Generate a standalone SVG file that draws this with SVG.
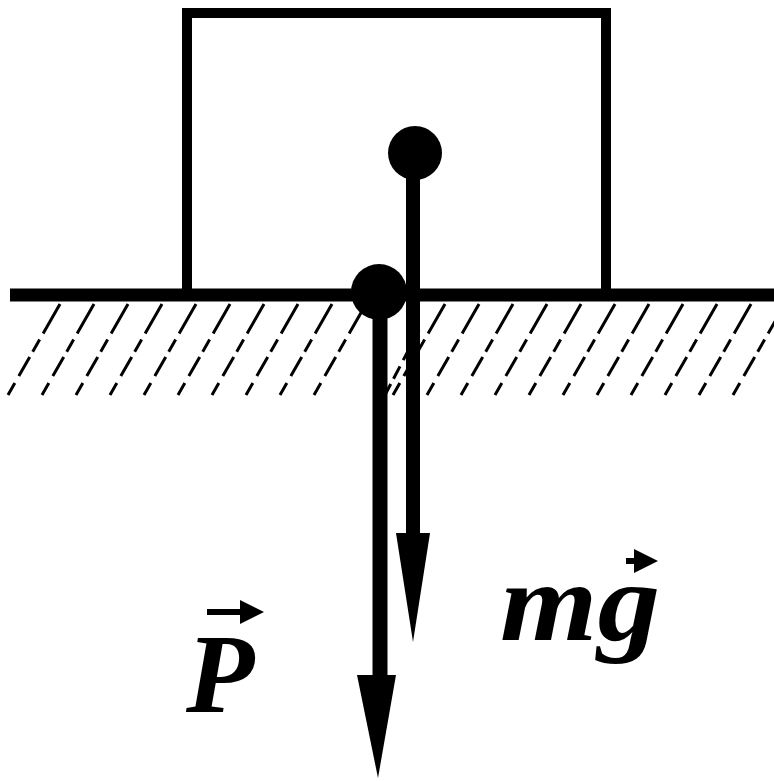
<svg xmlns="http://www.w3.org/2000/svg" width="774" height="781" viewBox="0 0 774 781">
<style>
.ink{stroke:#000;fill:none}
.hatch{stroke:#000;stroke-width:3;stroke-dasharray:34 7 14 6 22 8}
.lbl{font-family:"Liberation Serif","DejaVu Serif",serif;font-style:italic;font-weight:bold;fill:#000}
</style>
<defs>
<marker id="acc" markerWidth="4" markerHeight="4" refX="3" refY="2" orient="auto" markerUnits="strokeWidth">
<path d="M0,0 L4,2 L0,4 Z" fill="#000"/>
</marker>
</defs>
<rect width="774" height="781" fill="#fff"/>
<g id="ground">
<g id="hatching">
<line class="hatch" x1="60" y1="304" x2="8" y2="395"/>
<line class="hatch" x1="94" y1="304" x2="42" y2="395"/>
<line class="hatch" x1="128" y1="304" x2="76" y2="395"/>
<line class="hatch" x1="162" y1="304" x2="110" y2="395"/>
<line class="hatch" x1="196" y1="304" x2="144" y2="395"/>
<line class="hatch" x1="230" y1="304" x2="178" y2="395"/>
<line class="hatch" x1="264" y1="304" x2="212" y2="395"/>
<line class="hatch" x1="298" y1="304" x2="246" y2="395"/>
<line class="hatch" x1="332" y1="304" x2="280" y2="395"/>
<line class="hatch" x1="366" y1="304" x2="314" y2="395"/>
<line class="hatch" x1="445" y1="304" x2="393" y2="395"/>
<line class="hatch" x1="479" y1="304" x2="427" y2="395"/>
<line class="hatch" x1="513" y1="304" x2="461" y2="395"/>
<line class="hatch" x1="547" y1="304" x2="495" y2="395"/>
<line class="hatch" x1="581" y1="304" x2="529" y2="395"/>
<line class="hatch" x1="615" y1="304" x2="563" y2="395"/>
<line class="hatch" x1="649" y1="304" x2="597" y2="395"/>
<line class="hatch" x1="683" y1="304" x2="631" y2="395"/>
<line class="hatch" x1="717" y1="304" x2="665" y2="395"/>
<line class="hatch" x1="751" y1="304" x2="699" y2="395"/>
<line class="hatch" x1="785" y1="304" x2="733" y2="395"/>
<line class="hatch" x1="419" y1="330" x2="385" y2="395"/>
</g>
<line class="ink" x1="10" y1="295" x2="774" y2="295" stroke-width="13"/>
</g>
<g id="block">
<path class="ink" d="M187,291 V13 H606 V291" stroke-width="10"/>
</g>
<g id="connectors">
<g id="force-mg">
<circle cx="415" cy="153" r="27" fill="#000"/>
<line class="ink" x1="413" y1="160" x2="413" y2="540" stroke-width="14"/>
<path d="M396,533 L430,533 L413,642 Z" fill="#000"/>
</g>
<g id="force-P">
<circle cx="379" cy="292" r="28" fill="#000"/>
<line class="ink" x1="380" y1="292" x2="380" y2="680" stroke-width="15"/>
<path d="M357,675 L396,675 L378,778 Z" fill="#000"/>
</g>
</g>
<g id="label-P">
<text class="lbl" x="186" y="712" font-size="112">P</text>
<line x1="207" y1="612" x2="258" y2="612" stroke="#000" stroke-width="6" marker-end="url(#acc)"/>
</g>
<g id="label-mg">
<text class="lbl" x="500" y="640" font-size="112" textLength="160" lengthAdjust="spacingAndGlyphs">mg</text>
<line x1="626" y1="561" x2="652" y2="561" stroke="#000" stroke-width="6" marker-end="url(#acc)"/>
</g>
</svg>
